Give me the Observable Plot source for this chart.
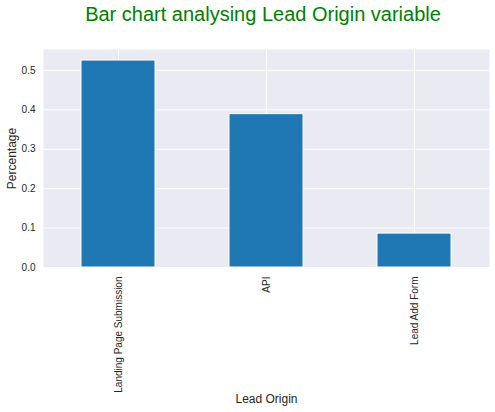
<!DOCTYPE html>
<html>
<head>
<meta charset="utf-8">
<script src="https://cdn.jsdelivr.net/npm/d3@7"></script>
<script src="https://cdn.jsdelivr.net/npm/@observablehq/plot@0.6"></script>
<style>
  html, body { margin: 0; padding: 0; background: #fff; }
</style>
</head>
<body>
<div id="chart"></div>
<script>
const categories = ["Landing Page Submission", "API", "Lead Add Form"];
const percentages = [0.525, 0.389, 0.086];
const yTicks = [0, 0.1, 0.2, 0.3, 0.4, 0.5];
const titleText = "Bar chart analysing Lead Origin variable";
const xLabel = "Lead Origin";
const yLabel = "Percentage";

const data = categories.map((c, i) => ({category: c, value: percentages[i]}));

const chart = Plot.plot({
  width: 495,
  height: 412,
  marginTop: 49,
  marginLeft: 43,
  marginRight: 6,
  marginBottom: 145,
  style: {fontFamily: "Liberation Sans, Arial, sans-serif", fontSize: "10px", color: "#262626", background: "#fff"},
  x: {domain: categories, paddingInner: 0.5, paddingOuter: 0.25},
  y: {domain: [0, 0.553]},
  marks: [
    Plot.frame({fill: "#EAEAF2", stroke: null}),
    Plot.ruleY(yTicks, {y: d => d, stroke: "white", strokeWidth: 1}),
    Plot.ruleX(categories, {x: d => d, stroke: "white", strokeWidth: 1}),
    Plot.barY(data, {x: "category", y: "value", fill: "#1f77b4", stroke: "white", strokeWidth: 1}),
    Plot.axisX({tickRotate: -90, tickSize: 0, tickPadding: 9, label: null, fontSize: 10}),
    Plot.axisY({ticks: yTicks, tickFormat: ".1f", tickSize: 0, tickPadding: 8, label: null, fontSize: 10}),
    Plot.text([titleText], {frameAnchor: "top", dx: -3.5, dy: -34.5, fontSize: 20, fill: "#008000", lineAnchor: "middle", textAnchor: "middle"}),
    Plot.text([xLabel], {frameAnchor: "bottom", dy: 132, fontSize: 12, fill: "#262626", lineAnchor: "middle", textAnchor: "middle"}),
    Plot.text([yLabel], {frameAnchor: "left", dx: -31.5, rotate: -90, fontSize: 12, fill: "#262626", lineAnchor: "middle", textAnchor: "middle"})
  ]
});
document.getElementById("chart").appendChild(chart);
</script>
</body>
</html>
